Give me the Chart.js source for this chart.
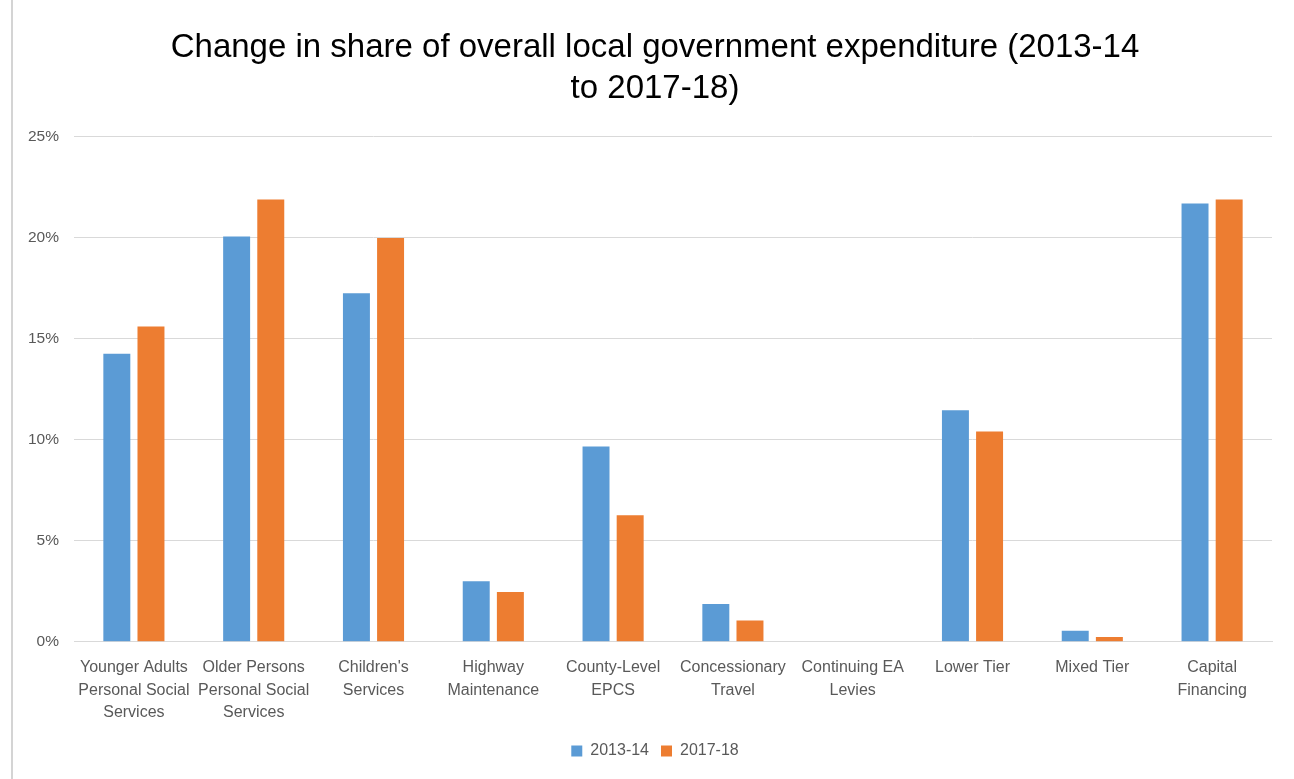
<!DOCTYPE html>
<html>
<head>
<meta charset="utf-8">
<script src="https://cdn.jsdelivr.net/npm/chart.js@4.4.1/dist/chart.umd.min.js"></script>
<style>
  html, body { margin: 0; padding: 0; background: #fff; }
  #wrap { position: relative; width: 1294px; height: 779px; }
  #edge { position: absolute; left: 11px; top: 0; width: 2px; height: 779px; background: #d4d4d4; }
</style>
</head>
<body>
<div id="wrap">
  <canvas id="chart" width="1294" height="779"></canvas>
  <div id="edge"></div>
</div>
<script>
// categories (multi-line labels as in the original)
const categories = [
  ["Younger Adults", "Personal Social", "Services"],
  ["Older Persons", "Personal Social", "Services"],
  ["Children's", "Services"],
  ["Highway", "Maintenance"],
  ["County-Level", "EPCS"],
  ["Concessionary", "Travel"],
  ["Continuing EA", "Levies"],
  ["Lower Tier"],
  ["Mixed Tier"],
  ["Capital", "Financing"]
];

// share of expenditure, in %
const share2013 = [14.25, 20.05, 17.25, 3.0, 9.66, 1.87, 0, 11.45, 0.55, 21.68];
const share2018 = [15.6, 21.88, 19.98, 2.47, 6.26, 1.05, 0, 10.4, 0.24, 21.88];

const yTicks = [0, 5, 10, 15, 20, 25];

const titleLines = [
  "Change in share of overall local government expenditure (2013-14",
  "to 2017-18)"
];

const FONT = "'Liberation Sans', Arial, sans-serif";
const GREY = "#595959";

new Chart(document.getElementById("chart"), {
  type: "bar",
  data: {
    labels: categories,
    datasets: [
      {
        label: "2013-14",
        data: share2013,
        backgroundColor: "#5b9bd5",
        categoryPercentage: 0.57,
        barPercentage: 0.79
      },
      {
        label: "2017-18",
        data: share2018,
        backgroundColor: "#ed7d31",
        categoryPercentage: 0.57,
        barPercentage: 0.79
      }
    ]
  },
  options: {
    responsive: false,
    animation: false,
    layout: { padding: { left: 16, right: 0, top: 0, bottom: 10 } },
    plugins: {
      title: {
        display: true,
        text: titleLines,
        color: "#000",
        font: { family: FONT, size: 33, weight: "normal", lineHeight: 1.25 },
        padding: { top: 27, bottom: 27 }
      },
      legend: {
        position: "bottom",
        labels: {
          boxWidth: 11,
          boxHeight: 11,
          color: GREY,
          font: { family: FONT, size: 16 },
          padding: 12
        }
      },
      tooltip: { enabled: false }
    },
    scales: {
      x: {
        grid: { display: false },
        border: { display: true, color: "#d9d9d9", width: 1 },
        ticks: {
          color: GREY,
          font: { family: FONT, size: 16, lineHeight: 1.4 },
          maxRotation: 0,
          autoSkip: false,
          padding: 7
        }
      },
      y: {
        min: 0,
        max: 25,
        afterFit: (scale) => { scale.width = 58; },
        afterBuildTicks: (scale) => { scale.ticks = yTicks.map((v) => ({ value: v })); },
        grid: { color: "#d9d9d9", drawTicks: false },
        border: { display: false },
        ticks: {
          color: GREY,
          font: { family: FONT, size: 15.5 },
          padding: 15,
          callback: (v) => v + "%"
        }
      },
      // empty right-hand axis, only keeps the right margin
      yRight: {
        position: "right",
        min: 0,
        max: 25,
        afterFit: (scale) => { scale.width = 22; },
        grid: { display: false },
        border: { display: false },
        ticks: { display: false }
      }
    }
  }
});
</script>
</body>
</html>
